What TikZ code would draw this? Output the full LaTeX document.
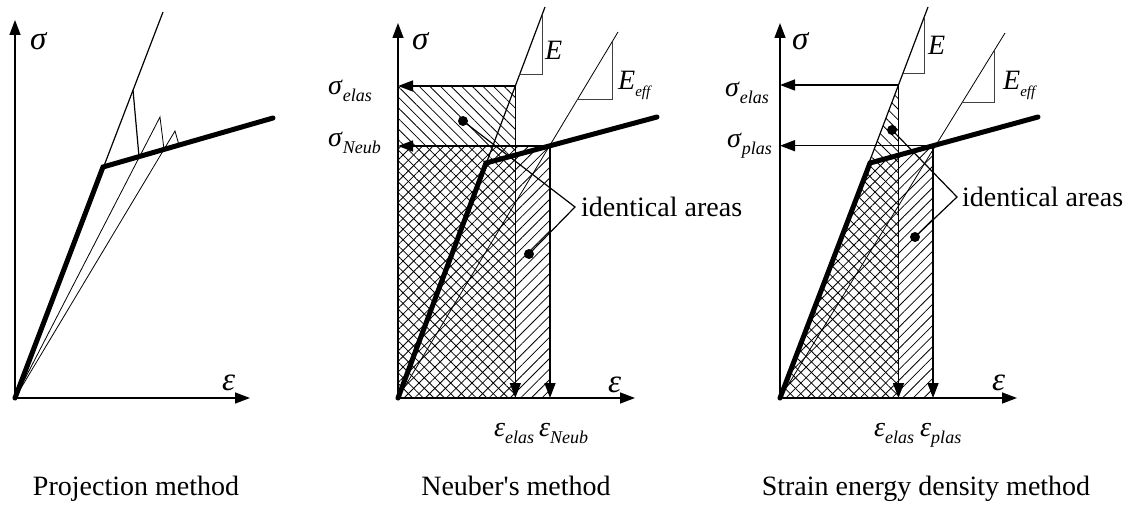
\documentclass[tikz,border=0pt]{standalone}
\usepackage{fontspec}
\setmainfont{Liberation Serif}
\usetikzlibrary{arrows.meta,patterns.meta}
\newcommand\lsub[3][18]{\textit{#2}\raisebox{-7pt}{\fontsize{#1}{#1}\selectfont\textit{#3}}}
\tikzset{
  axis/.style={line width=1.4pt,-{Triangle[length=15pt,width=11pt]}},
  thinl/.style={line width=1.2pt},
  thinner/.style={line width=0.8pt},
  curve/.style={line width=5pt,line join=miter,line cap=round},
  ptr/.style={line width=1.4pt,-{Triangle[length=15pt,width=11pt]}},
  slope/.style={line width=1pt,draw=black!75},
  lead/.style={line width=1.2pt},
  dot/.style={circle,fill,inner sep=0pt,minimum size=10pt},
  lbl/.style={inner sep=0pt,anchor=base west,font=\fontsize{28}{30}\selectfont},
  axl/.style={inner sep=0pt,anchor=base west,font=\fontsize{33}{34}\selectfont\itshape},
  ttl/.style={inner sep=0pt,anchor=base,font=\fontsize{28}{30}\selectfont},
  hatchNW/.style={pattern={Lines[angle=-45,distance=7.5pt,line width=0.8pt]}},
  hatchNE/.style={pattern={Lines[angle=45,distance=7.5pt,line width=0.8pt]}},
}
\begin{document}
\begin{tikzpicture}[x=1pt,y=-1pt]
\useasboundingbox (0,0) rectangle (1134,505);
% ---------------- Panel 1: projection ----------------
\coordinate (O1) at (15,398);
\coordinate (Y1) at (15,20);
\coordinate (X1) at (250,398);
\coordinate (Et1) at (163,12);
\coordinate (K1) at (103,167);
\coordinate (H1) at (273,118);
\coordinate (a1) at (133,90);
\coordinate (b1) at (139,156.6);
\coordinate (s2) at (160,117);
\coordinate (c2) at (164,149.4);
\coordinate (s3) at (175,131);
\coordinate (c3) at (179,145.1);
\draw[thinl] (O1) -- (Et1);
\draw[thinner] (O1) -- (s2) -- (c2);
\draw[thinner] (O1) -- (s3) -- (c3);
\draw[thinl] (a1) -- (b1);
\draw[curve] (O1) -- (K1) -- (H1);
\draw[axis] (O1) -- (Y1);
\draw[axis] (O1) -- (X1);
\node[axl] (sig1) at (30,50) {σ};
\node[axl] (eps1) at (222,390) {ε};
\node[ttl] (t1) at (136,495) {Projection method};
% ---------------- Panel 2: Neuber ----------------
\coordinate (O2) at (398,398);
\coordinate (Y2) at (398,23);
\coordinate (X2) at (635,398);
\coordinate (Et2) at (545,7);
\coordinate (Ef2) at (618,32);
\coordinate (K2) at (486,163);
\coordinate (H2) at (657,117);
\coordinate (Pe2) at (515.3,86);
\coordinate (Pn2) at (550,146);
\coordinate (Pe2a) at (398,86);
\coordinate (Pn2a) at (398,146);
\coordinate (Pe2b) at (515.3,398);
\coordinate (Pn2b) at (550,398);
\fill[hatchNW] (O2) rectangle (Pe2);
\fill[hatchNE] (O2) rectangle (Pn2);
\draw[thinl] (O2) -- (Et2);
\draw[thinner] (O2) -- (Ef2);
\draw[slope] (519.4,75) -- (542,75) -- (542,15);
\draw[slope] (577,100) -- (612,100) -- (612,42);
\draw[curve] (O2) -- (K2) -- (H2);
\draw[ptr] (Pe2) -- (Pe2a);
\draw[ptr] (Pn2) -- (Pn2a);
\draw[ptr] (Pe2) -- (Pe2b);
\draw[ptr] (Pn2) -- (Pn2b);
\draw[axis] (O2) -- (Y2);
\draw[axis] (O2) -- (X2);
\node[dot] (d2a) at (463,121) {};
\node[dot] (d2b) at (529,254) {};
\coordinate (ap2) at (575,207);
\draw[lead] (d2a.center) -- (ap2) -- (d2b.center);
\node[lbl,anchor=west] (id2) at (581,207) {identical areas};
\node[axl] (sig2) at (412,50) {σ};
\node[axl] (eps2) at (608,392) {ε};
\node[lbl] (E2) at (545,60) {\textit{E}};
\node[lbl] (Ef2l) at (618,90) {\lsub[15]{E}{eff}};
\node[lbl] (se2) at (328,95) {\lsub{σ}{elas}};
\node[lbl] (sn2) at (328,147) {\lsub{σ}{Neub}};
\node[lbl] (ee2) at (494,436) {\lsub{ε}{elas}};
\node[lbl] (en2) at (539,436) {\lsub{ε}{Neub}};
\node[ttl] (t2) at (516,495) {Neuber\textquotesingle s method};
% ---------------- Panel 3: strain energy density ----------------
\coordinate (O3) at (780,398);
\coordinate (Y3) at (780,23);
\coordinate (X3) at (1017,398);
\coordinate (Et3) at (928,7);
\coordinate (Ef3) at (1005,33);
\coordinate (K3) at (870,163);
\coordinate (H3) at (1038,117);
\coordinate (Pe3) at (898.5,85);
\coordinate (Pp3) at (933,145.7);
\coordinate (Pe3a) at (780,85);
\coordinate (Pp3a) at (780,145.7);
\coordinate (Pe3b) at (898.5,398);
\coordinate (Pp3b) at (933,398);
\fill[hatchNW] (O3) -- (Pe3) -- (Pe3b) -- cycle;
\fill[hatchNE] (O3) -- (K3) -- (Pp3) -- (Pp3b) -- cycle;
\draw[thinl] (O3) -- (Et3);
\draw[thinner] (O3) -- (Ef3);
\draw[slope] (902.6,74) -- (924,74) -- (924,17.5);
\draw[slope] (961.9,103) -- (994,103) -- (994,50.9);
\draw[curve] (O3) -- (K3) -- (H3);
\draw[ptr] (Pe3) -- (Pe3a);
\draw[ptr] (Pp3) -- (Pp3a);
\draw[ptr] (Pe3) -- (Pe3b);
\draw[ptr] (Pp3) -- (Pp3b);
\draw[axis] (O3) -- (Y3);
\draw[axis] (O3) -- (X3);
\node[dot] (d3a) at (892,130) {};
\node[dot] (d3b) at (915,237) {};
\coordinate (ap3) at (957,197);
\draw[lead] (d3a.center) -- (ap3) -- (d3b.center);
\node[lbl,anchor=west] (id3) at (962,197) {identical areas};
\node[axl] (sig3) at (792,50) {σ};
\node[axl] (eps3) at (992,390) {ε};
\node[lbl] (E3) at (928,55) {\textit{E}};
\node[lbl] (Ef3l) at (1003,90) {\lsub[15]{E}{eff}};
\node[lbl] (se3) at (725,97) {\lsub{σ}{elas}};
\node[lbl] (sp3) at (727,148) {\lsub{σ}{plas}};
\node[lbl] (ee3) at (874,436) {\lsub{ε}{elas}};
\node[lbl] (ep3) at (920,436) {\lsub{ε}{plas}};
\node[ttl] (t3) at (926,495) {Strain energy density method};
\end{tikzpicture}
\end{document}
